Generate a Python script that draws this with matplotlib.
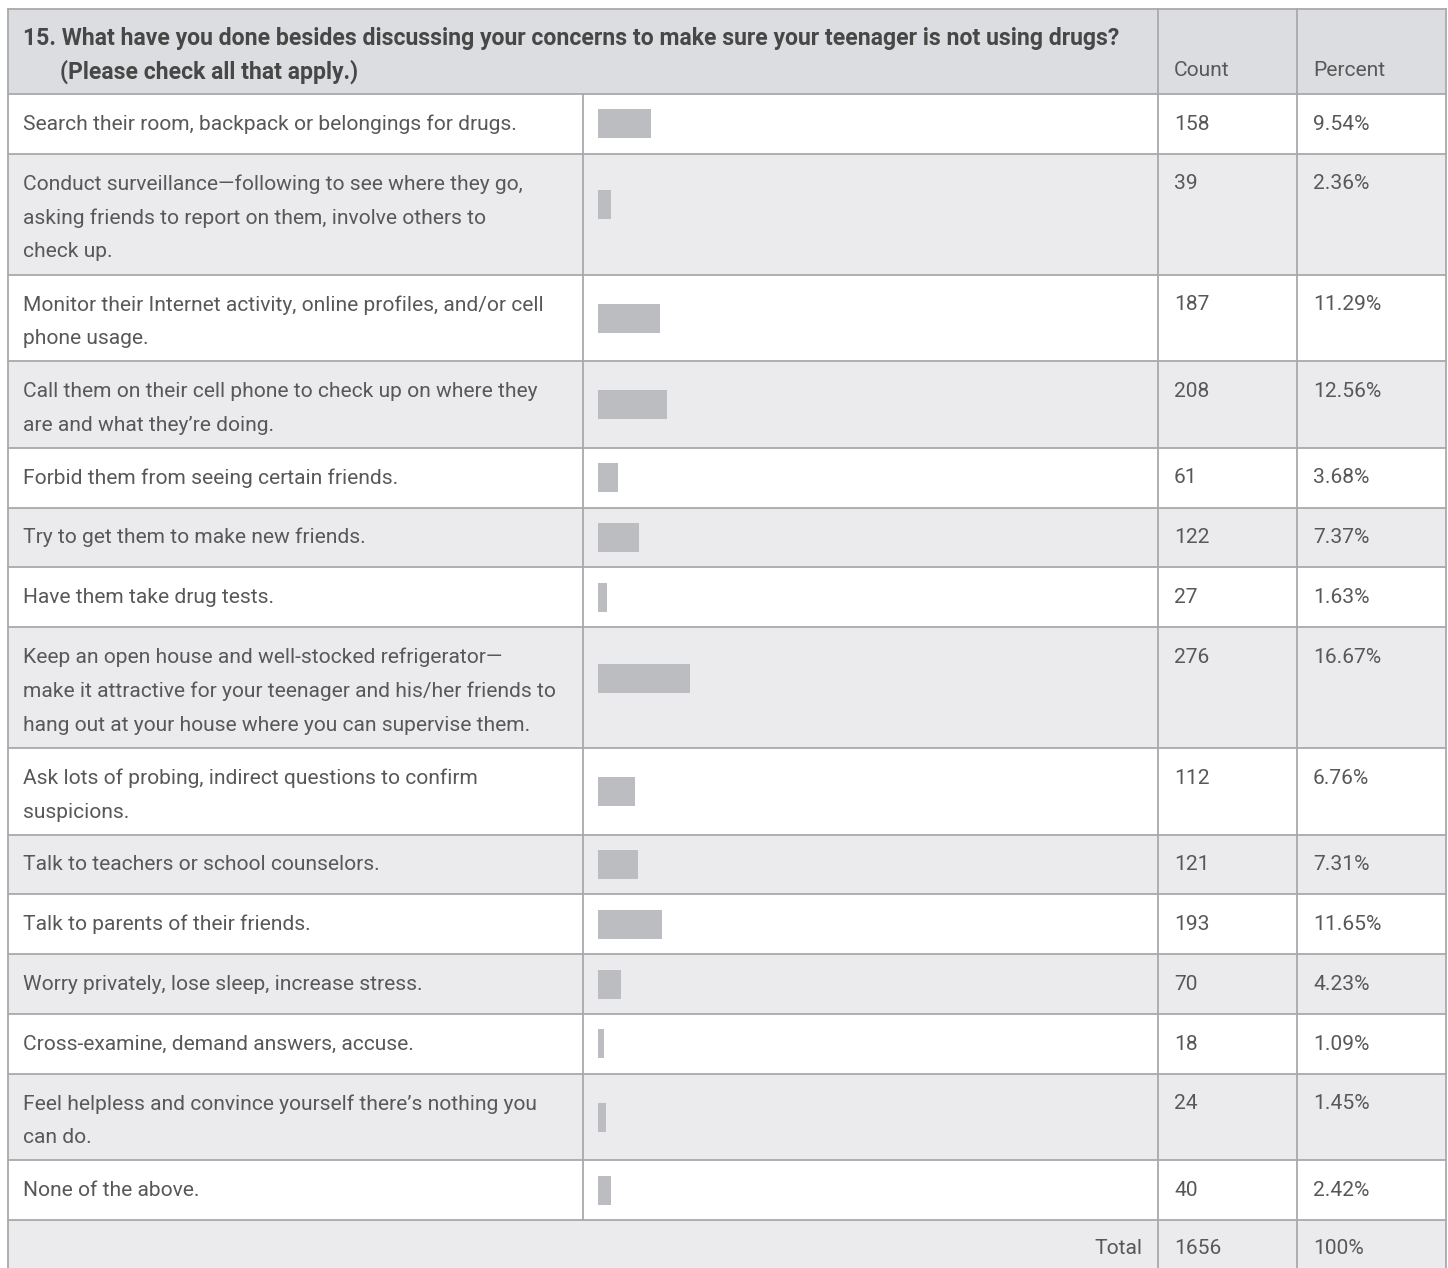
"""
Survey table: question 15, with inline bars for each answer's count.
"""

import matplotlib.pyplot as plt
from matplotlib.patches import Rectangle

plt.rcParams["font.family"] = ["Roboto", "DejaVu Sans"]

QUESTION = ["15. What have you done besides discussing your concerns to make sure your teenager is not using drugs?",
            "(Please check all that apply.)"]

answers = [
    "Search their room, backpack or belongings for drugs.",
    "Conduct surveillance\u2014following to see where they go,\nasking friends to report on them, involve others to\ncheck up.",
    "Monitor their Internet activity, online profiles, and/or cell\nphone usage.",
    "Call them on their cell phone to check up on where they\nare and what they\u2019re doing.",
    "Forbid them from seeing certain friends.",
    "Try to get them to make new friends.",
    "Have them take drug tests.",
    "Keep an open house and well-stocked refrigerator\u2014\nmake it attractive for your teenager and his/her friends to\nhang out at your house where you can supervise them.",
    "Ask lots of probing, indirect questions to confirm\nsuspicions.",
    "Talk to teachers or school counselors.",
    "Talk to parents of their friends.",
    "Worry privately, lose sleep, increase stress.",
    "Cross-examine, demand answers, accuse.",
    "Feel helpless and convince yourself there\u2019s nothing you\ncan do.",
    "None of the above.",
]
counts = [158, 39, 187, 208, 61, 122, 27, 276, 112, 121, 193, 70, 18, 24, 40]
percents = ["9.54%", "2.36%", "11.29%", "12.56%", "3.68%", "7.37%", "1.63%", "16.67%",
            "6.76%", "7.31%", "11.65%", "4.23%", "1.09%", "1.45%", "2.42%"]
total_count = "1656"
total_percent = "100%"

# layout (pixels)
W, H = 1448, 1268
X_LEFT, X_BAR, X_COUNT, X_PCT, X_RIGHT = 8, 583, 1158, 1297, 1446
TOP, HEADER_BOTTOM = 8.5, 94
ROW_H = {1: 59.8, 2: 86.5, 3: 121.0}
LINE_GAP = 34
PX_PER_COUNT = 0.333

TEXT = "#585858"
HEAD_TEXT = "#474747"
HEAD_BG = "#dcdde0"
ALT_BG = "#ebebed"
LINE = "#a9a9ab"
BAR = "#bcbdc1"

fig = plt.figure(figsize=(W / 100, H / 100), dpi=100)
ax = fig.add_axes([0, 0, 1, 1])
ax.set_xlim(0, W)
ax.set_ylim(H, 0)
ax.axis("off")
renderer = fig.canvas.get_renderer()


def fit_size(s, target_px, **kw):
    """font size that makes string s about target_px wide"""
    t = ax.text(0, 0, s, fontsize=10, **kw)
    w = t.get_window_extent(renderer).width
    t.remove()
    return 10 * target_px / w


FS = fit_size(answers[7].split("\n")[1], 535)
FS_HEAD = fit_size(QUESTION[0], 1095, fontweight="bold")
body = dict(fontsize=FS, color=TEXT, va="center")

# header
ax.add_patch(Rectangle((X_LEFT, TOP), X_RIGHT - X_LEFT, HEADER_BOTTOM - TOP, fc=HEAD_BG, ec="none"))
ax.text(23, 38, QUESTION[0], fontsize=FS_HEAD, fontweight="bold", color=HEAD_TEXT, va="center")
ax.text(60, 72, QUESTION[1], fontsize=FS_HEAD, fontweight="bold", color=HEAD_TEXT, va="center")
ax.text(X_COUNT + 16, 70, "Count", **body)
ax.text(X_PCT + 16, 70, "Percent", **body)

# body rows
y = HEADER_BOTTOM
tops, heights = [], []
for i, label in enumerate(answers):
    lines = label.split("\n")
    h = ROW_H[len(lines)]
    tops.append(y)
    heights.append(h)
    if i % 2 == 1:
        ax.add_patch(Rectangle((X_LEFT, y), X_RIGHT - X_LEFT, h, fc=ALT_BG, ec="none"))
    for k, line in enumerate(lines):
        ax.text(23, y + 30 + k * LINE_GAP, line, **body)
    ax.text(X_COUNT + 16, y + 30, str(counts[i]), **body)
    ax.text(X_PCT + 16, y + 30, percents[i], **body)
    y += h

bar_centers = [t + min(h / 2, 51) for t, h in zip(tops, heights)]
ax.barh(bar_centers, [c * PX_PER_COUNT for c in counts], left=598, height=29,
        color=BAR, edgecolor="none", zorder=2)

# total row
total_top = y
ax.add_patch(Rectangle((X_LEFT, total_top), X_RIGHT - X_LEFT, H - total_top + 20, fc=ALT_BG, ec="none"))
ax.text(X_COUNT - 16, total_top + 28, "Total", ha="right", **body)
ax.text(X_COUNT + 16, total_top + 28, total_count, **body)
ax.text(X_PCT + 16, total_top + 28, total_percent, **body)

# grid lines
lw = 1.3
for yy in [TOP, HEADER_BOTTOM] + [t + h for t, h in zip(tops, heights)]:
    ax.plot([X_LEFT, X_RIGHT], [yy, yy], color=LINE, lw=lw, zorder=3)
for xx in (X_LEFT, X_RIGHT, X_COUNT, X_PCT):
    ax.plot([xx, xx], [TOP, H + 5], color=LINE, lw=lw, zorder=3)
ax.plot([X_BAR, X_BAR], [HEADER_BOTTOM, total_top], color=LINE, lw=lw, zorder=3)

plt.savefig("out.png", dpi=100)
plt.close()
